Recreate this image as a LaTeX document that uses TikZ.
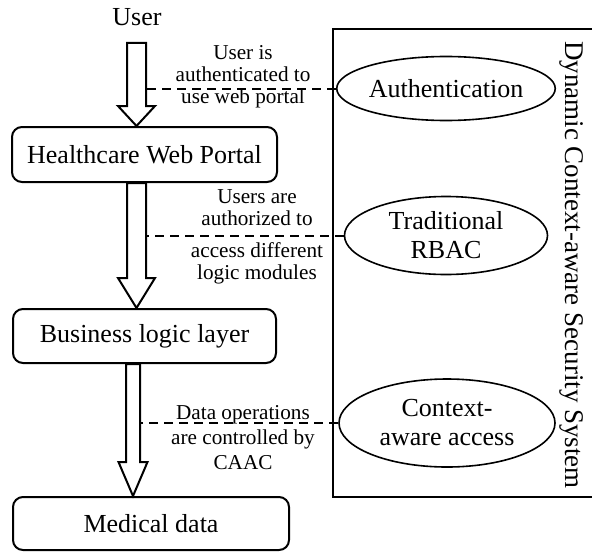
\documentclass[tikz,border=0pt]{standalone}
\usepackage{fontspec}
\setmainfont{Liberation Serif}
\usetikzlibrary{shapes.geometric,calc}

\tikzset{
  box/.style={draw, line width=1pt, rounded corners=5pt, inner sep=0pt, font=\fontsize{13}{15}\selectfont},
  oval/.style={draw, line width=0.8pt, ellipse, inner sep=0pt, align=center, font=\fontsize{13}{14.5}\selectfont},
  note/.style={align=center, inner sep=0pt, font=\fontsize{10.6}{11}\selectfont},
  link/.style={line width=1pt, dash pattern=on 4.5pt off 3pt},
  fat/.style={line width=1pt, fill=white}
}

% block arrow: top, tip, shaft half width, head half width, head length
\newcommand{\fatarrow}[5]{%
  \draw[fat] ($(#1)+(-#3,0)$) -- ($(#2)+(-#3,-#5)$) -- ($(#2)+(-#4,-#5)$) -- (#2)
    -- ($(#2)+(#4,-#5)$) -- ($(#2)+(#3,-#5)$) -- ($(#1)+(#3,0)$) -- cycle;}

\begin{document}
\begin{tikzpicture}[x=0.5pt,y=-0.5pt]
    \useasboundingbox (0,0) rectangle (592,551);
    % left column
    \node[font=\fontsize{13}{15}\selectfont] (user) at (137,17) {User};
    \node[box, minimum width=132.5pt, minimum height=27.5pt] (portal) at (144.5,154.5) {Healthcare Web Portal};
    \node[box, minimum width=131.5pt, minimum height=27pt] (logic) at (144.5,336) {Business logic layer};
    \node[box, minimum width=138pt, minimum height=26.5pt] (data) at (151,523.5) {Medical data};
    % security system
    \draw[line width=1pt] (592,29) -- (333,29) -- (333,497) -- (592,497);
    \node[rotate=-90, font=\fontsize{13.5}{15}\selectfont] (system) at (572,265)
        {Dynamic Context-aware Security System};
    \node[oval, minimum width=108.5pt, minimum height=32pt] (auth) at (446,88.5) {Authentication};
    \node[oval, minimum width=101.5pt, minimum height=39pt] (rbac) at (446,235.5) {Traditional\\RBAC};
    \node[oval, minimum width=108pt, minimum height=44pt] (caac) at (447,423) {Context-\\aware access};
    % block arrows
    \coordinate (top1) at (136.5,43);
    \coordinate (mid3) at (133,0);
    \coordinate (tip1) at (portal.north -| top1);
    \coordinate (top2) at (portal.south -| top1);
    \coordinate (tip2) at (logic.north -| top1);
    \coordinate (top3) at (logic.south -| mid3);
    \coordinate (tip3) at (data.north -| mid3);
    \fatarrow{top1}{tip1}{9.5}{18.5}{20}
    \fatarrow{top2}{tip2}{9.5}{18.5}{30}
    \fatarrow{top3}{tip3}{7}{14.5}{34}
    % dashed links
    \coordinate (edge1) at (146,0);
    \coordinate (edge3) at (140,0);
    \draw[link] (auth.west) -- (auth.west -| edge1);
    \draw[link] (rbac.west) -- (rbac.west -| edge1);
    \draw[link] (caac.west) -- (caac.west -| edge3);
    \node[note] (n1) at (243,77) {User is\\authenticated to\\use web portal};
    \node[note] (n2) at (257,237) {Users are\\authorized to\\[5pt]access different\\logic modules};
    \node[note] (n3) at (243,438) {Data operations\\[1.5pt]are controlled by\\[1.5pt]CAAC};
\end{tikzpicture}
\end{document}
